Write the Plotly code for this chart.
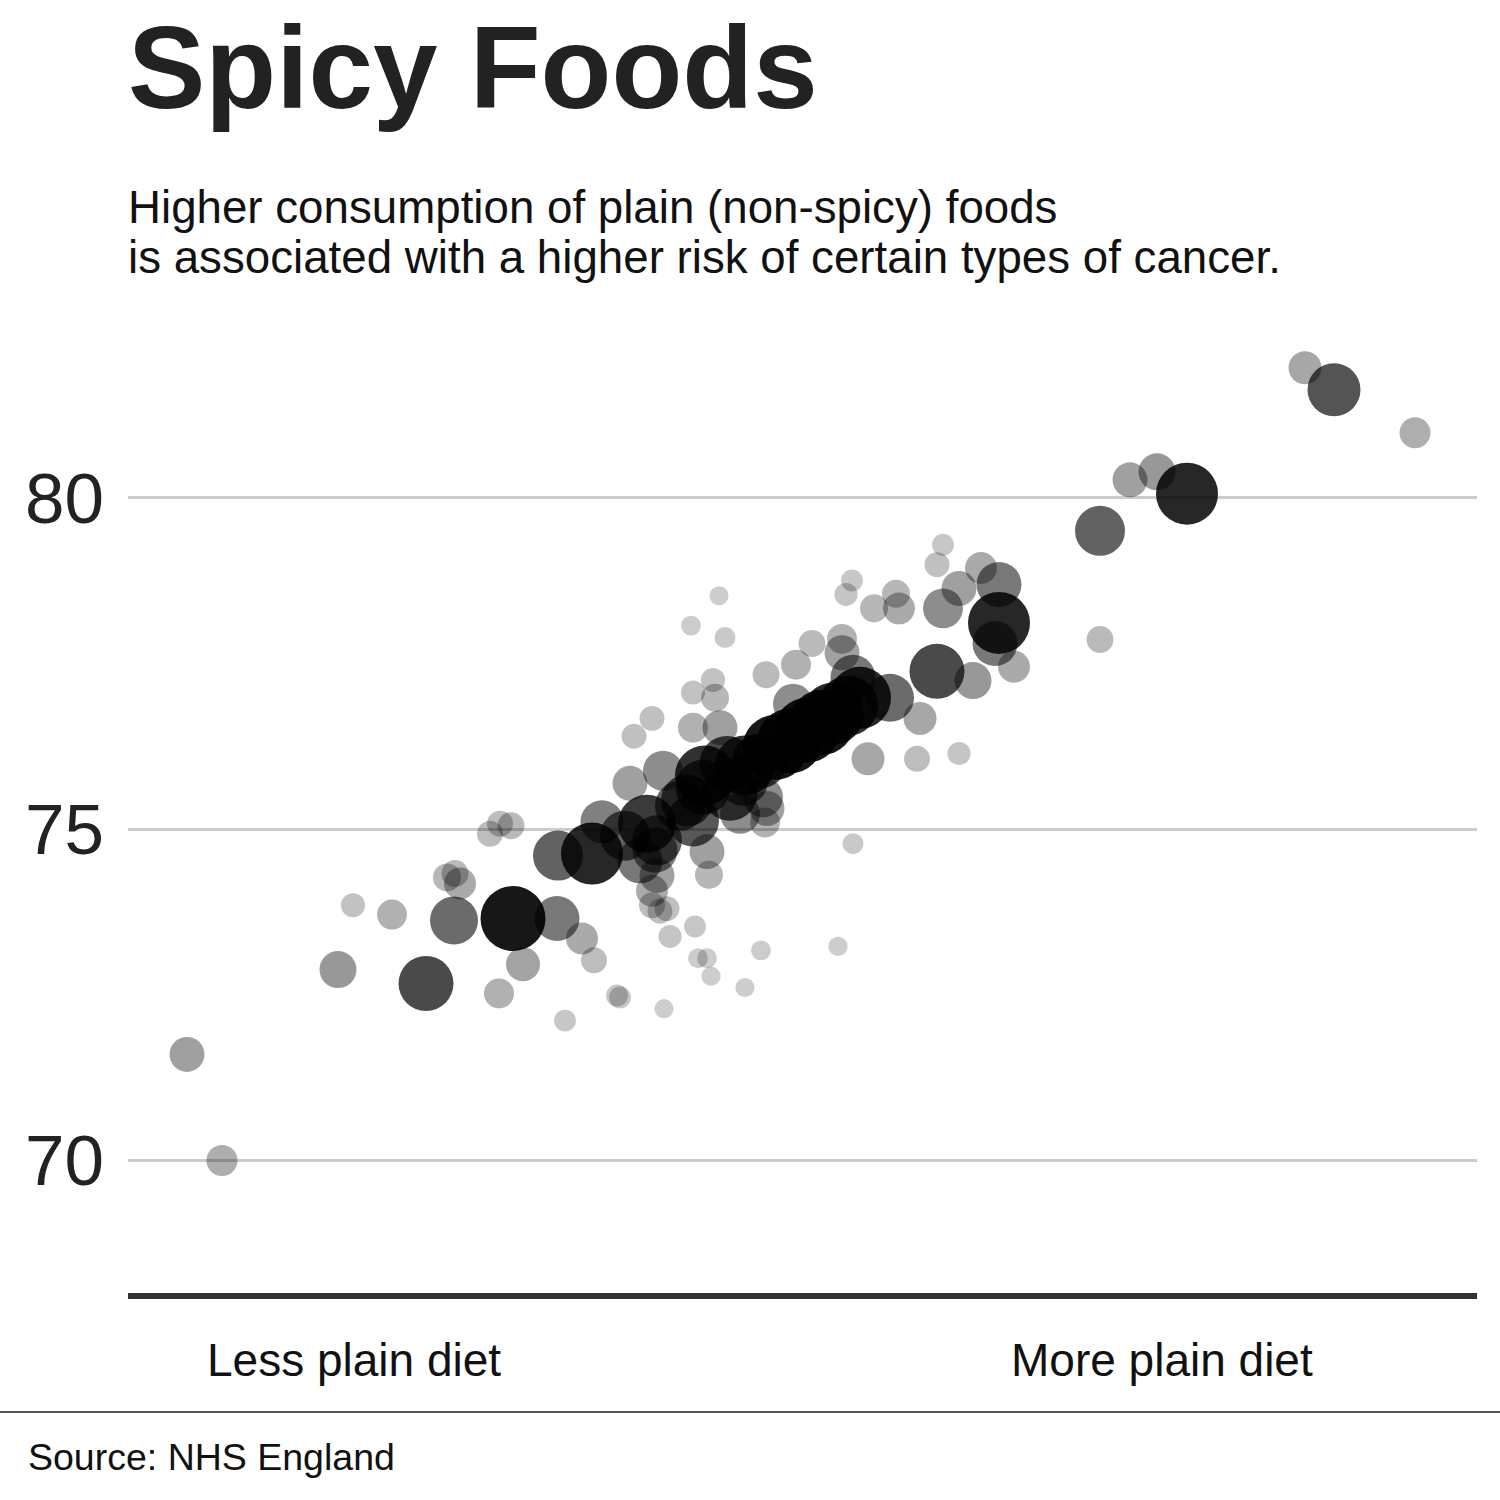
import plotly.graph_objects as go

# ---------------- data ----------------
# x: plain-diet index (arbitrary score), y: outcome value, pop: group size (arbitrary units)
plain_index = [18.7, 22.2, 33.8, 35.3, 39.2, 42.6, 45.4, 44.7, 45.5, 46.0,
               49.0, 50.0, 51.1, 51.3, 55.7, 58.2, 59.4, 52.3, 49.9, 56.5,
               61.7, 62.0, 55.8, 59.2, 60.2, 63.0, 64.7, 65.7, 65.5, 65.2,
               65.7, 65.2, 66.0, 66.7, 70.7, 70.9, 69.5, 67.0, 69.8, 70.7,
               71.1, 66.4, 74.5, 76.1, 83.8, 85.3, 66.3, 68.7, 70.3, 69.3,
               72.7, 74.3, 73.0, 76.3, 76.5, 76.7, 74.0, 77.5, 80.7, 83.3,
               86.0, 89.0, 85.3, 79.3, 72.0, 69.3, 71.5, 71.3, 69.3, 65.2,
               63.4, 71.9, 69.1, 72.5, 76.6, 79.6, 81.2, 84.2, 84.2, 85.2,
               84.6, 87.4, 89.6, 89.9, 86.8, 91.7, 95.9, 92.0, 93.7, 97.3,
               94.3, 95.9, 98.1, 93.7, 94.3, 99.9, 99.9, 99.5, 101.4, 110.0,
               110.0, 113.0, 115.7, 118.7, 130.5, 133.4, 141.5,
               70.5, 74.5, 68.0, 62.5, 64.0, 79.0, 82.2, 84.8, 76.0]

outcome = [71.60, 70.00, 72.88, 73.85, 73.71, 72.67, 73.62, 74.27, 74.33, 74.18,
           74.93, 75.08, 75.05, 73.65, 73.65, 73.35, 73.02, 72.96, 72.52, 72.11,
           72.49, 72.46, 74.60, 74.63, 75.11, 75.69, 75.08, 74.83, 74.68, 74.07,
           74.30, 73.85, 73.76, 73.80, 74.66, 74.31, 73.53, 73.38, 73.05, 73.05,
           72.78, 72.29, 72.61, 73.17, 73.23, 74.78, 75.88, 75.43, 75.63, 75.13,
           75.99, 75.73, 75.54, 75.48, 75.10, 75.31, 75.23, 76.23, 76.49, 76.74,
           76.98, 76.98, 77.29, 76.89, 76.53, 76.53, 76.98, 77.25, 77.06, 76.67,
           76.40, 78.52, 78.07, 77.89, 77.33, 77.48, 77.80, 77.87, 77.66, 78.75,
           78.54, 78.33, 78.55, 78.33, 76.06, 76.06, 76.14, 76.67, 77.38, 77.24,
           78.33, 78.63, 78.94, 78.99, 79.29, 78.69, 78.11, 77.80, 77.45, 77.86,
           79.50, 80.27, 80.39, 80.06, 81.96, 81.63, 80.98,
           75.81, 75.96, 75.35, 74.90, 74.52, 76.33, 76.61, 76.86, 76.03]

pop = [14.4, 9.0, 17.6, 2.6, 7.8, 60.8, 41.0, 5.8, 4.8, 10.2,
       4.0, 4.0, 4.8, 96.0, 33.6, 10.2, 4.0, 13.0, 7.8, 1.4,
       1.4, 1.4, 46.2, 84.6, 29.2, 14.4, 70.6, 46.2, 33.6, 10.2,
       14.4, 4.0, 3.2, 3.2, 14.4, 5.8, 1.4, 2.0, 0.6, 0.6,
       0.4, 0.4, 0.4, 0.6, 0.4, 1.0, 23.0, 51.8, 60.8, 51.8,
       60.8, 46.2, 60.8, 23.0, 7.8, 14.4, 23.0, 96.0, 96.0, 84.6,
       84.6, 41.0, 33.6, 23.0, 14.4, 7.8, 5.8, 2.6, 2.6, 3.2,
       3.2, 0.4, 0.6, 1.0, 4.8, 7.8, 4.8, 7.8, 14.4, 1.4,
       2.0, 5.8, 5.8, 10.2, 11.6, 4.0, 2.0, 11.6, 60.8, 17.6,
       23.0, 14.4, 10.2, 3.2, 1.4, 33.6, 84.6, 33.6, 10.2, 4.8,
       46.2, 14.4, 17.6, 84.6, 11.6, 54.8, 9.0,
       77.4, 77.4, 46.2, 46.2, 33.6, 96.0, 96.0, 77.4, 60.8]

y_ticks = [70, 75, 80]
x_labels = ["Less plain diet", "More plain diet"]

title_text = "Spicy Foods"
subtitle_lines = ["Higher consumption of plain (non-spicy) foods",
                  "is associated with a higher risk of certain types of cancer."]
source_text = "Source: NHS England"

# ---------------- styling ----------------
FONT = "Liberation Sans, Arial, Helvetica, sans-serif"
POP_MAX = 100.0
sizes = [16 + 50 * (p / POP_MAX) ** 0.5 for p in pop]
opac = [min(0.92, 0.18 + 0.75 * (p / POP_MAX) ** 0.7) for p in pop]

W, H = 1500, 1500
L, R, T, B = 128, 23, 332, 207
PW, PH = W - L - R, H - T - B


def px_x(px):
    return (px - L) / PW


def px_y(py):
    return (H - B - py) / PH


fig = go.Figure()
fig.add_trace(go.Scatter(
    x=plain_index, y=outcome, mode="markers",
    marker=dict(size=sizes, sizemode="diameter", color="black",
                opacity=opac, line=dict(width=0)),
    hoverinfo="skip", showlegend=False,
))

fig.update_layout(
    width=W, height=H,
    margin=dict(l=L, r=R, t=T, b=B, pad=0),
    paper_bgcolor="white", plot_bgcolor="white",
    font=dict(family=FONT, color="#222"),
    xaxis=dict(range=[12.8, 147.7], showgrid=False, zeroline=False,
               showticklabels=False, ticks="", showline=True,
               linecolor="#333", linewidth=6, fixedrange=True),
    yaxis=dict(range=[68, 82.5], tickvals=y_ticks, ticktext=[str(v) for v in y_ticks],
               showgrid=True, gridcolor="#cccccc", gridwidth=3, zeroline=False,
               showline=False, ticks="", tickfont=dict(size=71, color="#222", family=FONT),
               ticklabelstandoff=23, fixedrange=True),
)

ann = []
ann.append(dict(text=f"<b>{title_text}</b>", x=px_x(126), y=px_y(68), xref="paper", yref="paper",
                xanchor="left", yanchor="middle", showarrow=False,
                font=dict(size=116, color="#222", family=FONT)))
for line, cy in zip(subtitle_lines, [208, 258]):
    ann.append(dict(text=line, x=px_x(126), y=px_y(cy), xref="paper", yref="paper",
                    xanchor="left", yanchor="middle", showarrow=False,
                    font=dict(size=45.7, color="#111", family=FONT)))
for lab, cx in zip(x_labels, [353.5, 1161.5]):
    ann.append(dict(text=lab, x=px_x(cx), y=px_y(1360), xref="paper", yref="paper",
                    xanchor="center", yanchor="middle", showarrow=False,
                    font=dict(size=46, color="#111", family=FONT)))
ann.append(dict(text=source_text, x=px_x(26), y=px_y(1457), xref="paper", yref="paper",
                xanchor="left", yanchor="middle", showarrow=False,
                font=dict(size=37.5, color="#111", family=FONT)))
fig.update_layout(annotations=ann)

fig.add_shape(type="line", xref="paper", yref="paper",
              x0=px_x(0), x1=px_x(W), y0=px_y(1412), y1=px_y(1412),
              line=dict(color="#555", width=2))

fig.write_html("out.html")
